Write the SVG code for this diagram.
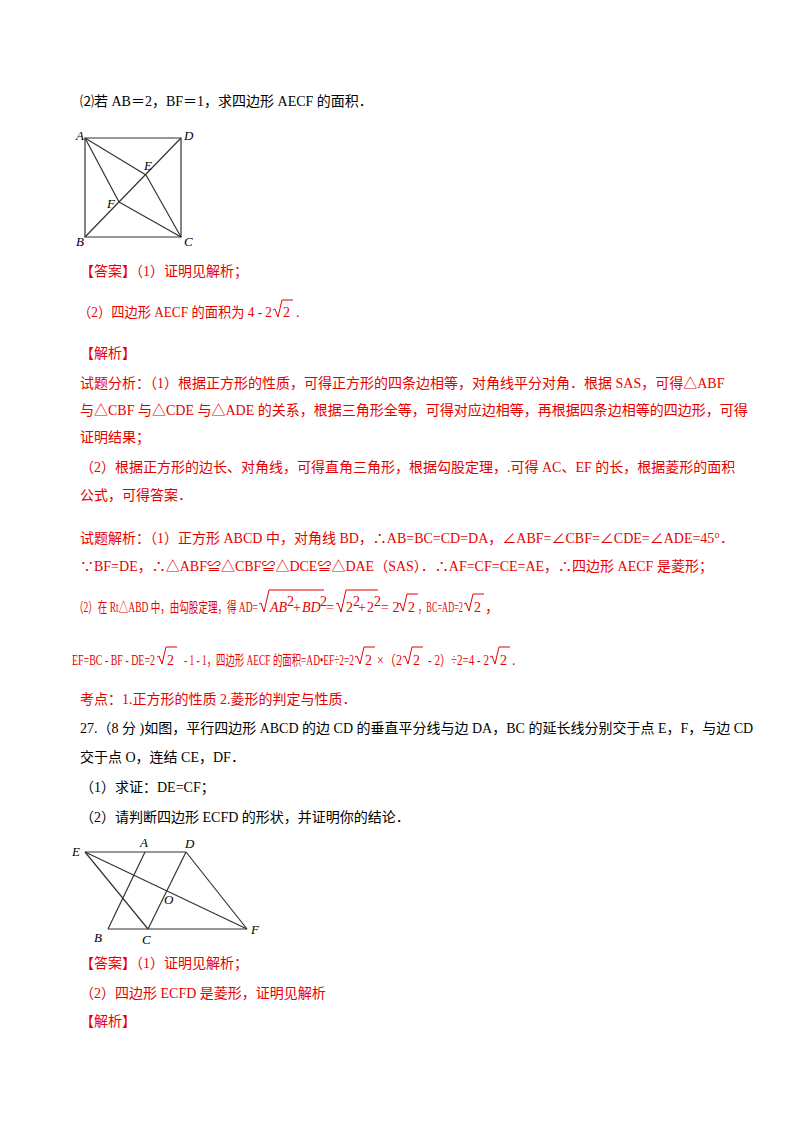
<svg xmlns="http://www.w3.org/2000/svg" width="800" height="1132" viewBox="0 0 800 1132">
<style>
text{font-family:"Liberation Serif","Noto Sans CJK SC",serif;font-size:14px;fill:#000}
.r{fill:#e60000}
.m{font-family:"Liberation Serif",serif;font-style:italic}
.lbl{font-family:"Liberation Serif",serif;font-style:italic;font-size:13px}
.g line,.g path{stroke:#333;stroke-width:1.2;fill:none}
.rad{stroke:#e60000;stroke-width:1;fill:none}
</style>
<rect width="800" height="1132" fill="#fff"/>
<text x="80" y="106">⑵若 AB＝2，BF＝1，求四边形 AECF 的面积．</text>
<g id="fig1" class="g">
<path d="M85,138 H181 V237 H85 Z"/>
<line x1="85" y1="237" x2="181" y2="138"/>
<line x1="85" y1="138" x2="146" y2="175"/>
<line x1="146" y1="175" x2="181" y2="237"/>
<line x1="85" y1="138" x2="119" y2="202"/>
<line x1="119" y1="202" x2="181" y2="237"/>
</g>
<g id="fig1-labels">
<text class="lbl" x="76" y="140">A</text>
<text class="lbl" x="184" y="140">D</text>
<text class="lbl" x="76" y="246">B</text>
<text class="lbl" x="184" y="246">C</text>
<text class="lbl" x="144" y="170">E</text>
<text class="lbl" x="107" y="208">F</text>
</g>
<text class="r" x="80" y="276">【答案】（1）证明见解析；</text>
<text class="r" x="78" y="317" textLength="194" lengthAdjust="spacingAndGlyphs">（2）四边形 AECF 的面积为 4 - 2</text>
<path class="rad" d="M273,310 l2,-1 l3,8 l4,-17 h11"/>
<text class="r" x="283" y="317">2</text>
<text class="r" x="296" y="317">.</text>
<text class="r" x="80" y="358">【解析】</text>
<text class="r" x="80" y="388">试题分析：（1）根据正方形的性质，可得正方形的四条边相等，对角线平分对角．根据 SAS，可得△ABF</text>
<text class="r" x="80" y="415">与△CBF 与△CDE 与△ADE 的关系，根据三角形全等，可得对应边相等，再根据四条边相等的四边形，可得</text>
<text class="r" x="80" y="442">证明结果；</text>
<text class="r" x="80" y="472">（2）根据正方形的边长、对角线，可得直角三角形，根据勾股定理，.可得 AC、EF 的长，根据菱形的面积</text>
<text class="r" x="80" y="500">公式，可得答案．</text>
<text class="r" x="80" y="543">试题解析：（1）正方形 ABCD 中，对角线 BD，∴AB=BC=CD=DA，∠ABF=∠CBF=∠CDE=∠ADE=45°．</text>
<text class="r" x="80" y="571">∵BF=DE，∴△ABF≌△CBF≌△DCE≌△DAE（SAS）．∴AF=CF=CE=AE，∴四边形 AECF 是菱形；</text>
<text class="r" x="74" y="612" textLength="184" lengthAdjust="spacingAndGlyphs">（2）在 Rt△ABD 中，由勾股定理，得 AD=</text>
<path class="rad" d="M259,604 l2,-1 l3,9 l5,-22 h55"/>
<text class="m r" x="270" y="612">AB</text>
<text class="r" x="287" y="606" font-size="8">2</text>
<text class="r" x="293" y="612">+</text>
<text class="m r" x="302" y="612">BD</text>
<text class="r" x="320" y="606" font-size="8">2</text>
<text class="r" x="326" y="612">=</text>
<path class="rad" d="M336,604 l2,-1 l3,9 l5,-22 h32"/>
<text class="r" x="346" y="612">2</text>
<text class="r" x="353" y="606" font-size="8">2</text>
<text class="r" x="358" y="612">+</text>
<text class="r" x="367" y="612">2</text>
<text class="r" x="374" y="606" font-size="8">2</text>
<text class="r" x="381" y="612">= 2</text>
<path class="rad" d="M398,604 l2,-1 l3,8 l4,-17 h11"/>
<text class="r" x="408" y="612">2</text>
<text class="r" x="418" y="612" textLength="45" lengthAdjust="spacingAndGlyphs">，BC=AD=2</text>
<path class="rad" d="M464,604 l2,-1 l3,8 l4,-17 h11"/>
<text class="r" x="474" y="612">2</text>
<text class="r" x="485" y="612">，</text>
<text class="r" x="72" y="665" textLength="83" lengthAdjust="spacingAndGlyphs">EF=BC - BF - DE=2</text>
<path class="rad" d="M157,657 l2,-1 l3,8 l4,-17 h11"/>
<text class="r" x="167" y="665">2</text>
<text class="r" x="184" y="665" textLength="170" lengthAdjust="spacingAndGlyphs">- 1 - 1，四边形 AECF 的面积=AD•EF÷2=2</text>
<path class="rad" d="M355,657 l2,-1 l3,8 l4,-17 h11"/>
<text class="r" x="365" y="665">2</text>
<text class="r" x="377" y="665" textLength="25" lengthAdjust="spacingAndGlyphs">×（2</text>
<path class="rad" d="M403,657 l2,-1 l3,8 l4,-17 h11"/>
<text class="r" x="413" y="665">2</text>
<text class="r" x="428" y="665" textLength="61" lengthAdjust="spacingAndGlyphs">- 2）÷2=4 - 2</text>
<path class="rad" d="M490,657 l2,-1 l3,8 l4,-17 h11"/>
<text class="r" x="500" y="665">2</text>
<text class="r" x="512" y="665">.</text>
<text class="r" x="80" y="704">考点：1.正方形的性质 2.菱形的判定与性质．</text>
<text x="80" y="733">27.（8 分 )如图，平行四边形 ABCD 的边 CD 的垂直平分线与边 DA，BC 的延长线分别交于点 E，F，与边 CD</text>
<text x="80" y="762">交于点 O，连结 CE，DF．</text>
<text x="80" y="792">（1）求证：DE=CF；</text>
<text x="80" y="822">（2）请判断四边形 ECFD 的形状，并证明你的结论．</text>
<g id="fig2" class="g">
<line x1="85" y1="852" x2="186" y2="852"/>
<line x1="108" y1="929" x2="247" y2="929"/>
<line x1="145" y1="852" x2="108" y2="929"/>
<line x1="186" y1="852" x2="148" y2="929"/>
<line x1="85" y1="852" x2="148" y2="929"/>
<line x1="85" y1="852" x2="247" y2="929"/>
<line x1="186" y1="852" x2="247" y2="929"/>
</g>
<g id="fig2-labels">
<text class="lbl" x="72" y="856">E</text>
<text class="lbl" x="140" y="847">A</text>
<text class="lbl" x="185" y="848">D</text>
<text class="lbl" x="94" y="942">B</text>
<text class="lbl" x="142" y="944">C</text>
<text class="lbl" x="251" y="934">F</text>
<text class="lbl" x="164" y="904">O</text>
</g>
<text class="r" x="80" y="968">【答案】（1）证明见解析；</text>
<text class="r" x="80" y="998">（2）四边形 ECFD 是菱形，证明见解析</text>
<text class="r" x="80" y="1026">【解析】</text>
</svg>
